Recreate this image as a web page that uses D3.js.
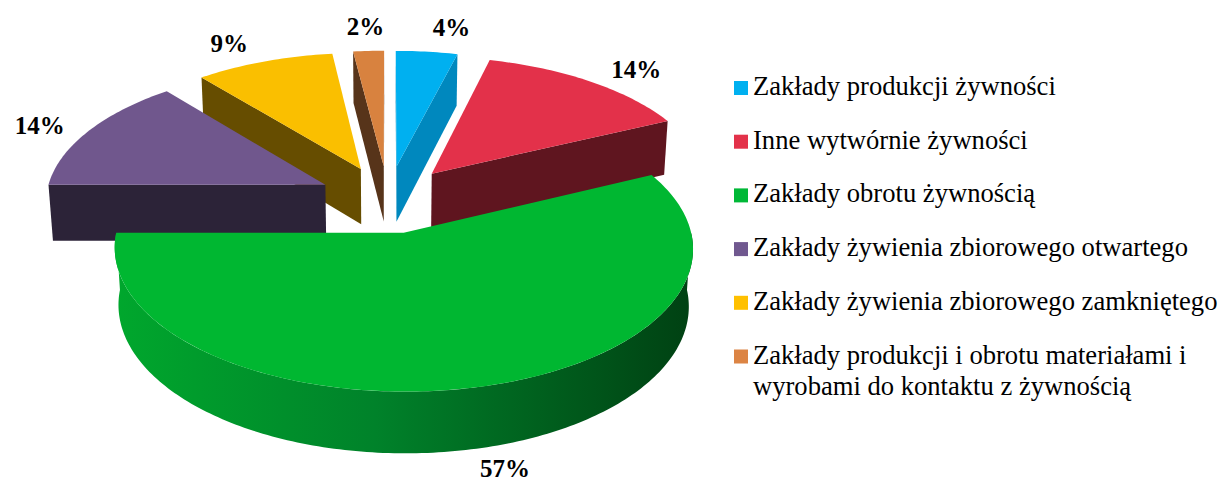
<!DOCTYPE html>
<html><head><meta charset="utf-8">
<script src="https://cdn.jsdelivr.net/npm/d3@7"></script>
<style>body{margin:0;background:#fff}svg{display:block}</style>
</head><body>
<svg id="c" width="1220" height="482"></svg>
<script>
const categories = [
  "Zakłady produkcji żywności",
  "Inne wytwórnie żywności",
  "Zakłady obrotu żywnością",
  "Zakłady żywienia zbiorowego otwartego",
  "Zakłady żywienia zbiorowego zamkniętego",
  "Zakłady produkcji i obrotu materiałami i wyrobami do kontaktu z żywnością"
];
const values = [4, 14, 57, 14, 9, 2];
const labels = ["4%", "14%", "57%", "14%", "9%", "2%"];
const topColors = ["#00B0F0", "#E3314A", "#00B731", "#70578D", "#FABF00", "#D8823F"];
const sideColors = ["#0088BE", "#5F151F", "#00501A", "#2C2338", "#664D00", "#57341A"];
const legendColors = ["#00B0F0", "#E3324A", "#00B837", "#70588F", "#FFC000", "#DC8444"];
const legendLines = [
  ["Zakłady produkcji żywności"],
  ["Inne wytwórnie żywności"],
  ["Zakłady obrotu żywnością"],
  ["Zakłady żywienia zbiorowego otwartego"],
  ["Zakłady żywienia zbiorowego zamkniętego"],
  ["Zakłady produkcji i obrotu materiałami i", "wyrobami do kontaktu z żywnością"]
];

const FONT = "'Liberation Serif', 'Times New Roman', serif";
const svg = d3.select("#c");
const cx = 388, cy = 199, R = 280, H = 65, EXP = 70, F = 2315;
const sinP = 0.48, cosP = Math.sqrt(1 - sinP * sinP);

function proj(x, z, h) {
  const u = z * sinP + h * cosP;
  const d = z * cosP - h * sinP;
  const k = F / (F + d);
  return [cx + x * k, cy - u * k];
}

const pie = d3.pie().sort(null).value(d => d)(values);
const slices = pie.map((p, i) => {
  const mid = (p.startAngle + p.endAngle) / 2;
  return { i, a0: p.startAngle, a1: p.endAngle, mid,
    ox: EXP * Math.sin(mid), oz: EXP * Math.cos(mid) };
});

function pt(s, th, r, h) {
  return proj(s.ox + r * Math.sin(th), s.oz + r * Math.cos(th), h);
}
function arcPts(s, t0, t1, h) {
  const n = Math.max(2, Math.ceil(Math.abs(t1 - t0) / (Math.PI / 180)));
  const out = [];
  for (let j = 0; j <= n; j++) out.push(pt(s, t0 + (t1 - t0) * j / n, R, h));
  return out;
}
const line = d3.line().curve(d3.curveLinear);
const poly = pts => line(pts) + "Z";

const defs = svg.append("defs");
const g = defs.append("linearGradient").attr("id", "gside")
  .attr("gradientUnits", "userSpaceOnUse").attr("x1", 110).attr("x2", 700).attr("y1", 0).attr("y2", 0);
g.append("stop").attr("offset", 0).attr("stop-color", "#00A82D");
g.append("stop").attr("offset", 0.45).attr("stop-color", "#00822A");
g.append("stop").attr("offset", 1).attr("stop-color", "#003F12");

const order = slices.slice().sort((a, b) => b.oz - a.oz);
const chart = svg.append("g");
order.forEach(s => {
  const grp = chart.append("g");
  const faces = [];
  if (Math.cos(s.a1 + Math.PI / 2) < 0.05)
    faces.push([pt(s, 0, 0, 0), pt(s, s.a1, R, 0), pt(s, s.a1, R, -H), pt(s, 0, 0, -H)]);
  if (Math.cos(s.a0 - Math.PI / 2) < 0.05)
    faces.push([pt(s, 0, 0, 0), pt(s, s.a0, R, 0), pt(s, s.a0, R, -H), pt(s, 0, 0, -H)]);
  faces.forEach(f => grp.append("path").attr("d", poly(f)).attr("fill", sideColors[s.i]));
  const lo = Math.max(s.a0, Math.PI / 2), hi = Math.min(s.a1, 3 * Math.PI / 2);
  if (hi > lo) {
    const top = arcPts(s, lo, hi, 0), bot = arcPts(s, lo, hi, -H).reverse();
    grp.append("path").attr("d", poly(top.concat(bot)))
      .attr("fill", s.i === 2 ? "url(#gside)" : sideColors[s.i]);
  }
  const topPts = [pt(s, 0, 0, 0)].concat(arcPts(s, s.a0, s.a1, 0));
  grp.append("path").attr("d", poly(topPts)).attr("fill", topColors[s.i]);
});

// data labels: outside end, inner corner of the text box near the anchor
slices.forEach(s => {
  const front = Math.cos(s.mid) < 0;
  const h = front ? -H : 0;
  const a = pt(s, s.mid, R, h);
  const c = pt(s, 0, 0, h);
  let vx = a[0] - c[0], vy = a[1] - c[1];
  const L = Math.hypot(vx, vy); vx /= L; vy /= L;
  const pad = front ? 14 : 24;
  const x = a[0] + vx * pad, y = a[1] + vy * pad;
  const sn = Math.sin(s.mid);
  svg.append("text").attr("x", x).attr("y", front ? y + 15 : y + 8)
    .attr("text-anchor", Math.abs(sn) < 0.1 ? "middle" : (sn >= 0 ? "start" : "end"))
    .attr("font-family", FONT).attr("font-weight", "bold")
    .attr("font-size", 25).attr("fill", "#000").text(labels[s.i]);
});

// legend
const lg = svg.append("g");
legendLines.forEach((lines, i) => {
  const y0 = 81 + i * 53.7;
  lg.append("rect").attr("x", 734).attr("y", y0).attr("width", 14).attr("height", 14)
    .attr("fill", legendColors[i]);
  const t = lg.append("text").attr("font-family", FONT).attr("font-size", 26.6)
    .attr("fill", "#000");
  lines.forEach((ln, j) => t.append("tspan").attr("x", 753).attr("y", y0 + 14 + j * 31.7).text(ln));
});
</script>
</body></html>
